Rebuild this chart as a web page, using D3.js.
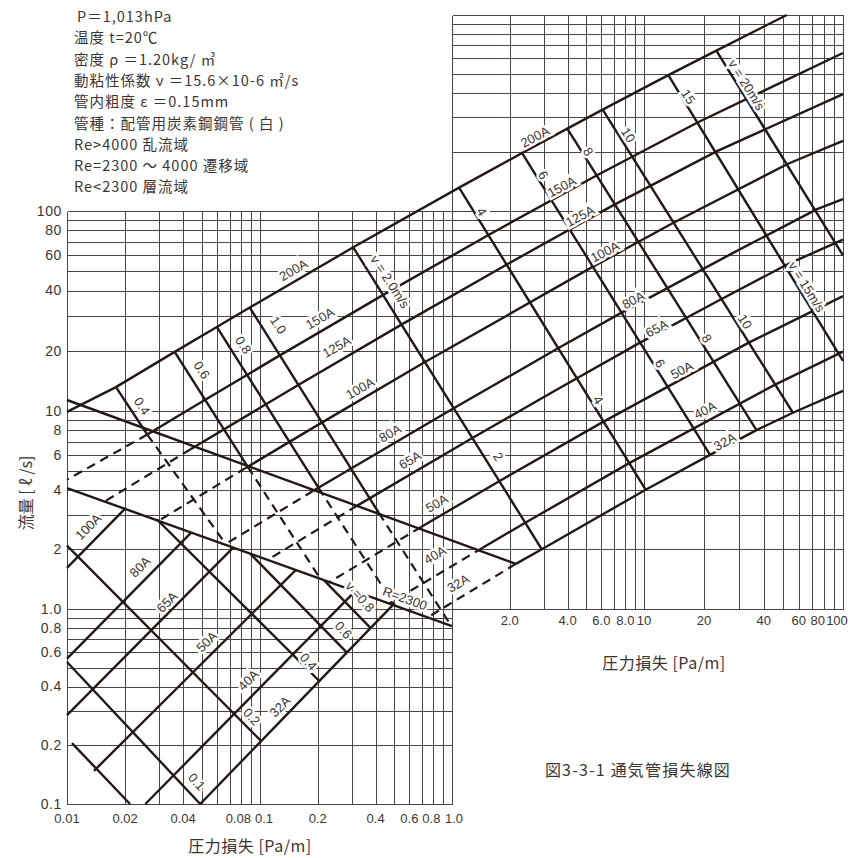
<!DOCTYPE html>
<html><head><meta charset="utf-8">
<script src="https://cdn.jsdelivr.net/npm/d3@7"></script>
<style>
body{margin:0;background:#fff}
svg text{font-family:"Liberation Sans","Noto Sans CJK JP",sans-serif;fill:#3a3535}
svg text.cjk{font-family:"Noto Sans CJK JP","Noto Sans",sans-serif}
</style></head>
<body><svg id="c" width="848" height="858"></svg>
<script>
// ---------- data (ΔP [Pa/m], Q [l/s]) ----------
const yTickLabels = [[100,"100"],[80,"80"],[60,"60"],[40,"40"],[20,"20"],[10,"10"],[8,"8"],[6,"6"],[4,"4"],[2,"2"],[1,"1.0"],[0.8,"0.8"],[0.6,"0.6"],[0.4,"0.4"],[0.2,"0.2"],[0.1,"0.1"]];
const xTickLabelsLow = [[0.01,"0.01"],[0.02,"0.02"],[0.04,"0.04"],[0.08,"0.08"],[0.1,"0.1"],[0.2,"0.2"],[0.4,"0.4"],[0.6,"0.6"],[0.8,"0.8"],[1,"1.0"]];
const xTickLabelsHigh = [[2,"2.0"],[4,"4.0"],[6,"6.0"],[8,"8.0"],[10,"10"],[20,"20"],[40,"40"],[60,"60"],[80,"80"],[100,"100"]];

// pipe lines, turbulent part (solid)
const pipe200 = [[0.01,9.9],[0.01793,13.16],[0.03614,19.75],[0.05973,26.33],[0.0885,32.91],[0.3059,65.82],[1.0885,131.6],[2.318,197.5],[3.986,263.3],[6.091,329.1],[13.25,493.7],[23.1,658.2],[52.16,1000]];
const pipe150 = [[0.02606,7.606],[0.05176,11.35],[0.1262,18.92],[0.4341,37.84],[1.540,75.67],[5.629,151.3],[18.68,283.8],[100,640]];
const pipe125 = [[0.04369,6.41],[0.1574,13.44],[0.5396,26.87],[1.910,53.75],[6.975,107.5],[23.14,201.6],[100,395]];
const pipe100 = [[0.0844,5.161],[0.2087,8.709],[0.7123,17.42],[5.337,52.25],[13.99,87.09],[52.92,174.2],[100,228]];
const pipe80  = [[0.1895,3.954],[1.004,10.23],[3.529,20.46],[7.481,30.69],[27.72,61.38],[74.05,102.3],[100,115]];
const pipe65  = [[0.321,3.328],[1.2566,7.242],[3.451,12.67],[9.333,21.73],[24.41,36.21],[52.95,54.3],[100,72]];
const pipe50  = [[0.690,2.594],[1.743,4.396],[6.087,8.79],[33.61,21.98],[100,37.5]];
const pipe40  = [[1.444,2.039],[2.395,2.718],[8.33,5.436],[45.87,13.59],[100,19.8]];
const pipe32  = [[2.15,1.69],[2.937,2.002],[10.19,4.004],[21.48,6.006],[36.75,8.008],[55.97,9.8],[100,12.6]];
// pipe lines, transition part (dashed)
const pipeDash32  = [[2.15,1.69],[0.7468,0.906]];
const pipeDash40  = [[1.444,2.039],[0.4697,1.065]];
const pipeDash50  = [[0.690,2.594],[0.2297,1.366]];
const pipeDash65  = [[0.321,3.328],[0.1094,1.770]];
const pipeDash80  = [[0.1895,3.954],[0.0656,2.115]];
const pipeDash100 = [[0.0844,5.161],[0.0298,2.79]];
const pipeDash125 = [[0.04369,6.41],[0.01566,3.49]];
const pipeDash150 = [[0.02606,7.606],[0.01,4.5]];
// pipe lines, laminar part (solid)
const pipeLam32  = [[0.049,0.1],[0.4928,1.049]];
const pipeLam40  = [[0.02547,0.1],[0.3125,1.228]];
const pipeLam50  = [[0.0138,0.148],[0.1534,1.572]];
const pipeLam65  = [[0.01,0.2856],[0.07263,2.04]];
const pipeLam80  = [[0.01,0.556],[0.04399,2.43]];
const pipeLam100 = [[0.01,1.612],[0.01995,3.206]];
// velocity lines, turbulent (solid)
const vel04 = [[0.01793,13.16],[0.02606,7.606]];
const vel06 = [[0.03614,19.75],[0.0864,5.225]];
const vel08 = [[0.05973,26.33],[0.2018,4.092]];
const vel10 = [[0.0885,32.91],[0.4158,3.058]];
const vel2  = [[0.3059,65.82],[2.937,2.002]];
const vel4  = [[1.0885,131.6],[10.19,4.004]];
const vel6  = [[2.318,197.5],[21.48,6.006]];
const vel8  = [[3.986,263.3],[36.75,8.008]];
const vel10b= [[6.091,329.1],[55.97,9.8]];
const vel15 = [[13.25,493.7],[100,17.8]];
const vel20 = [[23.1,658.2],[100,60]];
// velocity lines, transition (dashed)
const velDash04 = [[0.02606,7.606],[0.0671,2.099]];
const velDash06 = [[0.0864,5.225],[0.2064,1.419]];
const velDash08 = [[0.2018,4.092],[0.5038,1.04]];
const velDash10 = [[0.4158,3.058],[0.99,0.82]];
// velocity lines, laminar (solid)
const velLam08 = [[0.2151,1.398],[0.376,0.8008]];
const velLam06 = [[0.0891,1.90],[0.282,0.6006]];
const velLam04 = [[0.02917,2.839],[0.2054,0.4236]];
const velLam02 = [[0.01,2.09],[0.1021,0.2087]];
const velLam01 = [[0.01,0.535],[0.049,0.1]];
const velLamLow = [[0.01061,0.2053],[0.02121,0.1]];
// Reynolds boundaries
const re4000 = [[0.01,11.35],[2.15,1.69]];
const re2300 = [[0.01,4.08],[1.0,0.818]];

// labels [text, ΔP, Q]
const pipeLabelsUR = [["200A",2.706,239.3],["150A",3.727,133.1],["125A",4.642,94.4],["100A",6.26,62.6],["80A",8.79,35.9],["65A",11.58,25.9],["50A",15.47,16.03],["40A",20.25,10.1],["32A",25.5,7.0]];
const pipeLabelsLL = [["200A",0.149,50.7],["150A",0.2053,29.1],["125A",0.2509,20.96],["100A",0.3318,12.99],["80A",0.4755,7.72],["65A",0.6043,5.655],["50A",0.8324,3.419],["40A",0.8158,1.874],["32A",1.078,1.348]];
const pipeLabelsLam = [["100A",0.01289,2.604],["80A",0.02389,1.635],["65A",0.03297,1.085],["50A",0.05294,0.6797],["40A",0.08697,0.4324],["32A",0.1271,0.3155]];
const velLabelsTop = [["v = 20m/s",32.8,439.5],["15",16.7,382.8],["10",8.284,244.2],["8",5.128,200.7],["6",2.989,152.6],["4",1.428,99.2]];
const velLabelsMid = [["v = 15m/s",65.7,41.8],["10",32.2,27.96],["8",20.65,23.09],["6",12.03,17.32],["4",5.78,11.35],["2",1.742,5.877]];
const velLabelsLL = [["0.4",0.02447,10.59],["0.6",0.0499,16.03],["0.8",0.0819,21.38],["1.0",0.1245,26.92],["v = 2.0m/s",0.4755,44.3]];
const velLabelsLam = [["v =0.8",0.3318,1.154],["0.6",0.2716,0.7802],["0.4",0.1785,0.5367],["0.2",0.0906,0.2804],["0.1",0.047,0.1301]];
const reLabel = ["R=2300",0.5689,1.132];

const infoLines = ["P＝1,013hPa","温度 t=20℃","密度 ρ ＝1.20kg/ ㎥","動粘性係数 ν ＝15.6×10-6 ㎡/s","管内粗度 ε ＝0.15mm","管種：配管用炭素鋼鋼管 ( 白 )","Re>4000 乱流域","Re=2300 ～ 4000 遷移域","Re<2300 層流域"];

// ---------- drawing ----------
const svg = d3.select("#c");
const x = d3.scaleLog().domain([0.01,0.1,1,10,100]).range([67,260,452,644,843]);
const y = d3.scaleLog().domain([0.1,1,10,100,1000]).range([804,609,411,211,15]);
const px = v => Math.round(x(v)) + 0.5, py = v => Math.round(y(v)) + 0.5;

function decadeValues(lo, hi){
  const out=[]; const e0=Math.round(Math.log10(lo)), e1=Math.round(Math.log10(hi));
  for(let e=e0;e<e1;e++){ for(let m=1;m<10;m++) out.push(+(m*Math.pow(10,e)).toPrecision(6)); }
  out.push(hi); return out;
}
const grid = svg.append("g").attr("stroke","#4a4442").attr("stroke-width",1).attr("shape-rendering","crispEdges");
decadeValues(0.01,1).forEach(v=>grid.append("line").attr("x1",px(v)).attr("x2",px(v)).attr("y1",py(100)).attr("y2",py(0.1)));
decadeValues(0.1,100).forEach(v=>grid.append("line").attr("y1",py(v)).attr("y2",py(v)).attr("x1",px(0.01)).attr("x2",px(1)));
decadeValues(1,100).forEach(v=>grid.append("line").attr("x1",px(v)).attr("x2",px(v)).attr("y1",py(1000)).attr("y2",py(1)));
decadeValues(1,1000).forEach(v=>grid.append("line").attr("y1",py(v)).attr("y2",py(v)).attr("x1",px(1)).attr("x2",px(100)));

const line = d3.line().x(d=>x(d[0])).y(d=>y(d[1]));
const lines = svg.append("g").attr("fill","none").attr("stroke","#231815").attr("stroke-linejoin","round");
const solid = [pipe200,pipe150,pipe125,pipe100,pipe80,pipe65,pipe50,pipe40,pipe32,
  pipeLam32,pipeLam40,pipeLam50,pipeLam65,pipeLam80,pipeLam100,
  vel04,vel06,vel08,vel10,vel2,vel4,vel6,vel8,vel10b,vel15,vel20,
  velLam08,velLam06,velLam04,velLam02,velLam01,velLamLow,re4000,re2300];
const dashed = [pipeDash32,pipeDash40,pipeDash50,pipeDash65,pipeDash80,pipeDash100,pipeDash125,pipeDash150,
  velDash04,velDash06,velDash08,velDash10];
solid.forEach(d=>lines.append("path").attr("d",line(d)).attr("stroke-width",2.4));
dashed.forEach(d=>lines.append("path").attr("d",line(d)).attr("stroke-width",2.2).attr("stroke-dasharray","9,6"));

// in-chart labels
const lab = svg.append("g").attr("font-size",13).attr("text-anchor","middle");
function put(arr, ang){
  arr.forEach(([t,p,q])=>lab.append("text").attr("transform",`translate(${x(p)},${y(q)}) rotate(${ang})`)
    .attr("dy","0.35em").attr("stroke","#fff").attr("stroke-width",5).attr("paint-order","stroke").text(t));
}
put(pipeLabelsUR,-28); put(pipeLabelsLL,-30); put(pipeLabelsLam,-45);
put(velLabelsTop,58); put(velLabelsMid,58); put(velLabelsLL,57); put(velLabelsLam,48);
put([reLabel],20);

// axes text
const nudgeLow = {"0.08":-3,"0.1":4,"0.8":-2,"1.0":2};
const nudgeHigh = {"80":-6,"100":-6};
const ax = svg.append("g").attr("font-size",13);
yTickLabels.forEach(([v,t])=>ax.append("text").attr("x",62).attr("y",y(v)).attr("dy","0.35em").attr("text-anchor","end").attr("font-size",14).attr("letter-spacing",0.6).text(t));
xTickLabelsLow.forEach(([v,t])=>ax.append("text").attr("x",x(v)+(nudgeLow[t]||0)).attr("y",823).attr("text-anchor","middle").text(t));
xTickLabelsHigh.forEach(([v,t])=>ax.append("text").attr("x",x(v)+(nudgeHigh[t]||0)).attr("y",625).attr("text-anchor","middle").text(t));

svg.append("text").attr("class","cjk").attr("transform","translate(32,493) rotate(-90)").attr("text-anchor","middle").attr("font-size",16).text("流量 [ ℓ /s]");
svg.append("text").attr("class","cjk").attr("x",250).attr("y",852).attr("text-anchor","middle").attr("font-size",16).attr("letter-spacing",0.5).text("圧力損失 [Pa/m]");
svg.append("text").attr("class","cjk").attr("x",664).attr("y",669).attr("text-anchor","middle").attr("font-size",16).attr("letter-spacing",0.5).text("圧力損失 [Pa/m]");
svg.append("text").attr("class","cjk").attr("x",638).attr("y",776).attr("text-anchor","middle").attr("font-size",16).attr("letter-spacing",1.2).text("図3-3-1  通気管損失線図");

const info = svg.append("g").attr("font-size",14.5).attr("letter-spacing",1);
infoLines.forEach((t,i)=>info.append("text").attr("class","cjk").attr("x",i===0?77:74).attr("y",22+i*21.3).text(t));
</script></body></html>
